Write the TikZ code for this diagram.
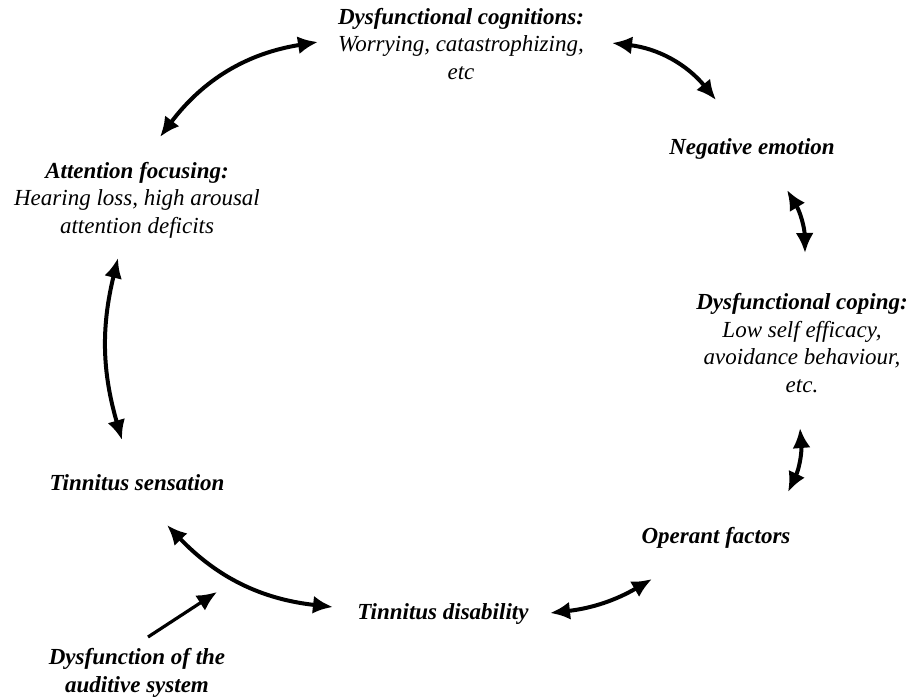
\documentclass[tikz,border=0pt]{standalone}
\usepackage{fontspec}
\setmainfont{Liberation Serif}
\usetikzlibrary{arrows.meta}
\begin{document}
\begin{tikzpicture}[x=1pt,y=1pt,
  lbl/.style={inner sep=0pt, align=center, font=\fontsize{23}{27.5}\selectfont\itshape},
  link/.style={line width=4pt, {Latex[length=20pt,width=18pt]}-{Latex[length=20pt,width=18pt]}},
  feed/.style={line width=3.2pt, -{Latex[length=20pt,width=18pt]}}]
\path[use as bounding box] (0,0) rectangle (919,-697);
\node[lbl] (cog) at (461,-44) {\textbf{Dysfunctional cognitions:}\\Worrying, catastrophizing,\\etc};
\node[lbl] (neg) at (752,-149) {\textbf{Negative emotion}};
\node[lbl] (att) at (137,-200) {\textbf{Attention focusing:}\\Hearing loss, high arousal\\attention deficits};
\node[lbl] (cop) at (802,-343) {\textbf{Dysfunctional coping:}\\Low self efficacy,\\avoidance behaviour,\\etc.};
\node[lbl] (sen) at (137,-483) {\textbf{Tinnitus sensation}};
\node[lbl] (dis) at (443,-614) {\textbf{Tinnitus disability}};
\node[lbl] (ope) at (716,-538) {\textbf{Operant factors}};
\node[lbl] (aud) at (137,-673) {\textbf{Dysfunction of the}\\\textbf{auditive system}};
% arrow end points
\coordinate (a1) at (160,-137); \coordinate (b1) at (318,-42);
\coordinate (a2) at (612,-43);  \coordinate (b2) at (716,-100);
\coordinate (a3) at (787,-190); \coordinate (b3) at (805,-253);
\coordinate (a4) at (800,-428); \coordinate (b4) at (788,-492);
\coordinate (a5) at (652,-579); \coordinate (b5) at (550,-613);
\coordinate (a6) at (333,-607); \coordinate (b6) at (167,-525);
\coordinate (a7) at (122,-440); \coordinate (b7) at (118,-258);
\coordinate (a8) at (148,-637); \coordinate (b8) at (217,-592);
\draw[link] (a1) to[bend left=22] (b1);
\draw[link] (a2) to[bend left=22] (b2);
\draw[link] (a3) to[bend left=15] (b3);
\draw[link] (a4) to[bend left=15] (b4);
\draw[link] (a5) to[bend left=12] (b5);
\draw[link] (a6) to[bend left=20] (b6);
\draw[link] (a7) to[bend left=15] (b7);
\draw[feed] (a8) -- (b8);
\end{tikzpicture}
\end{document}
